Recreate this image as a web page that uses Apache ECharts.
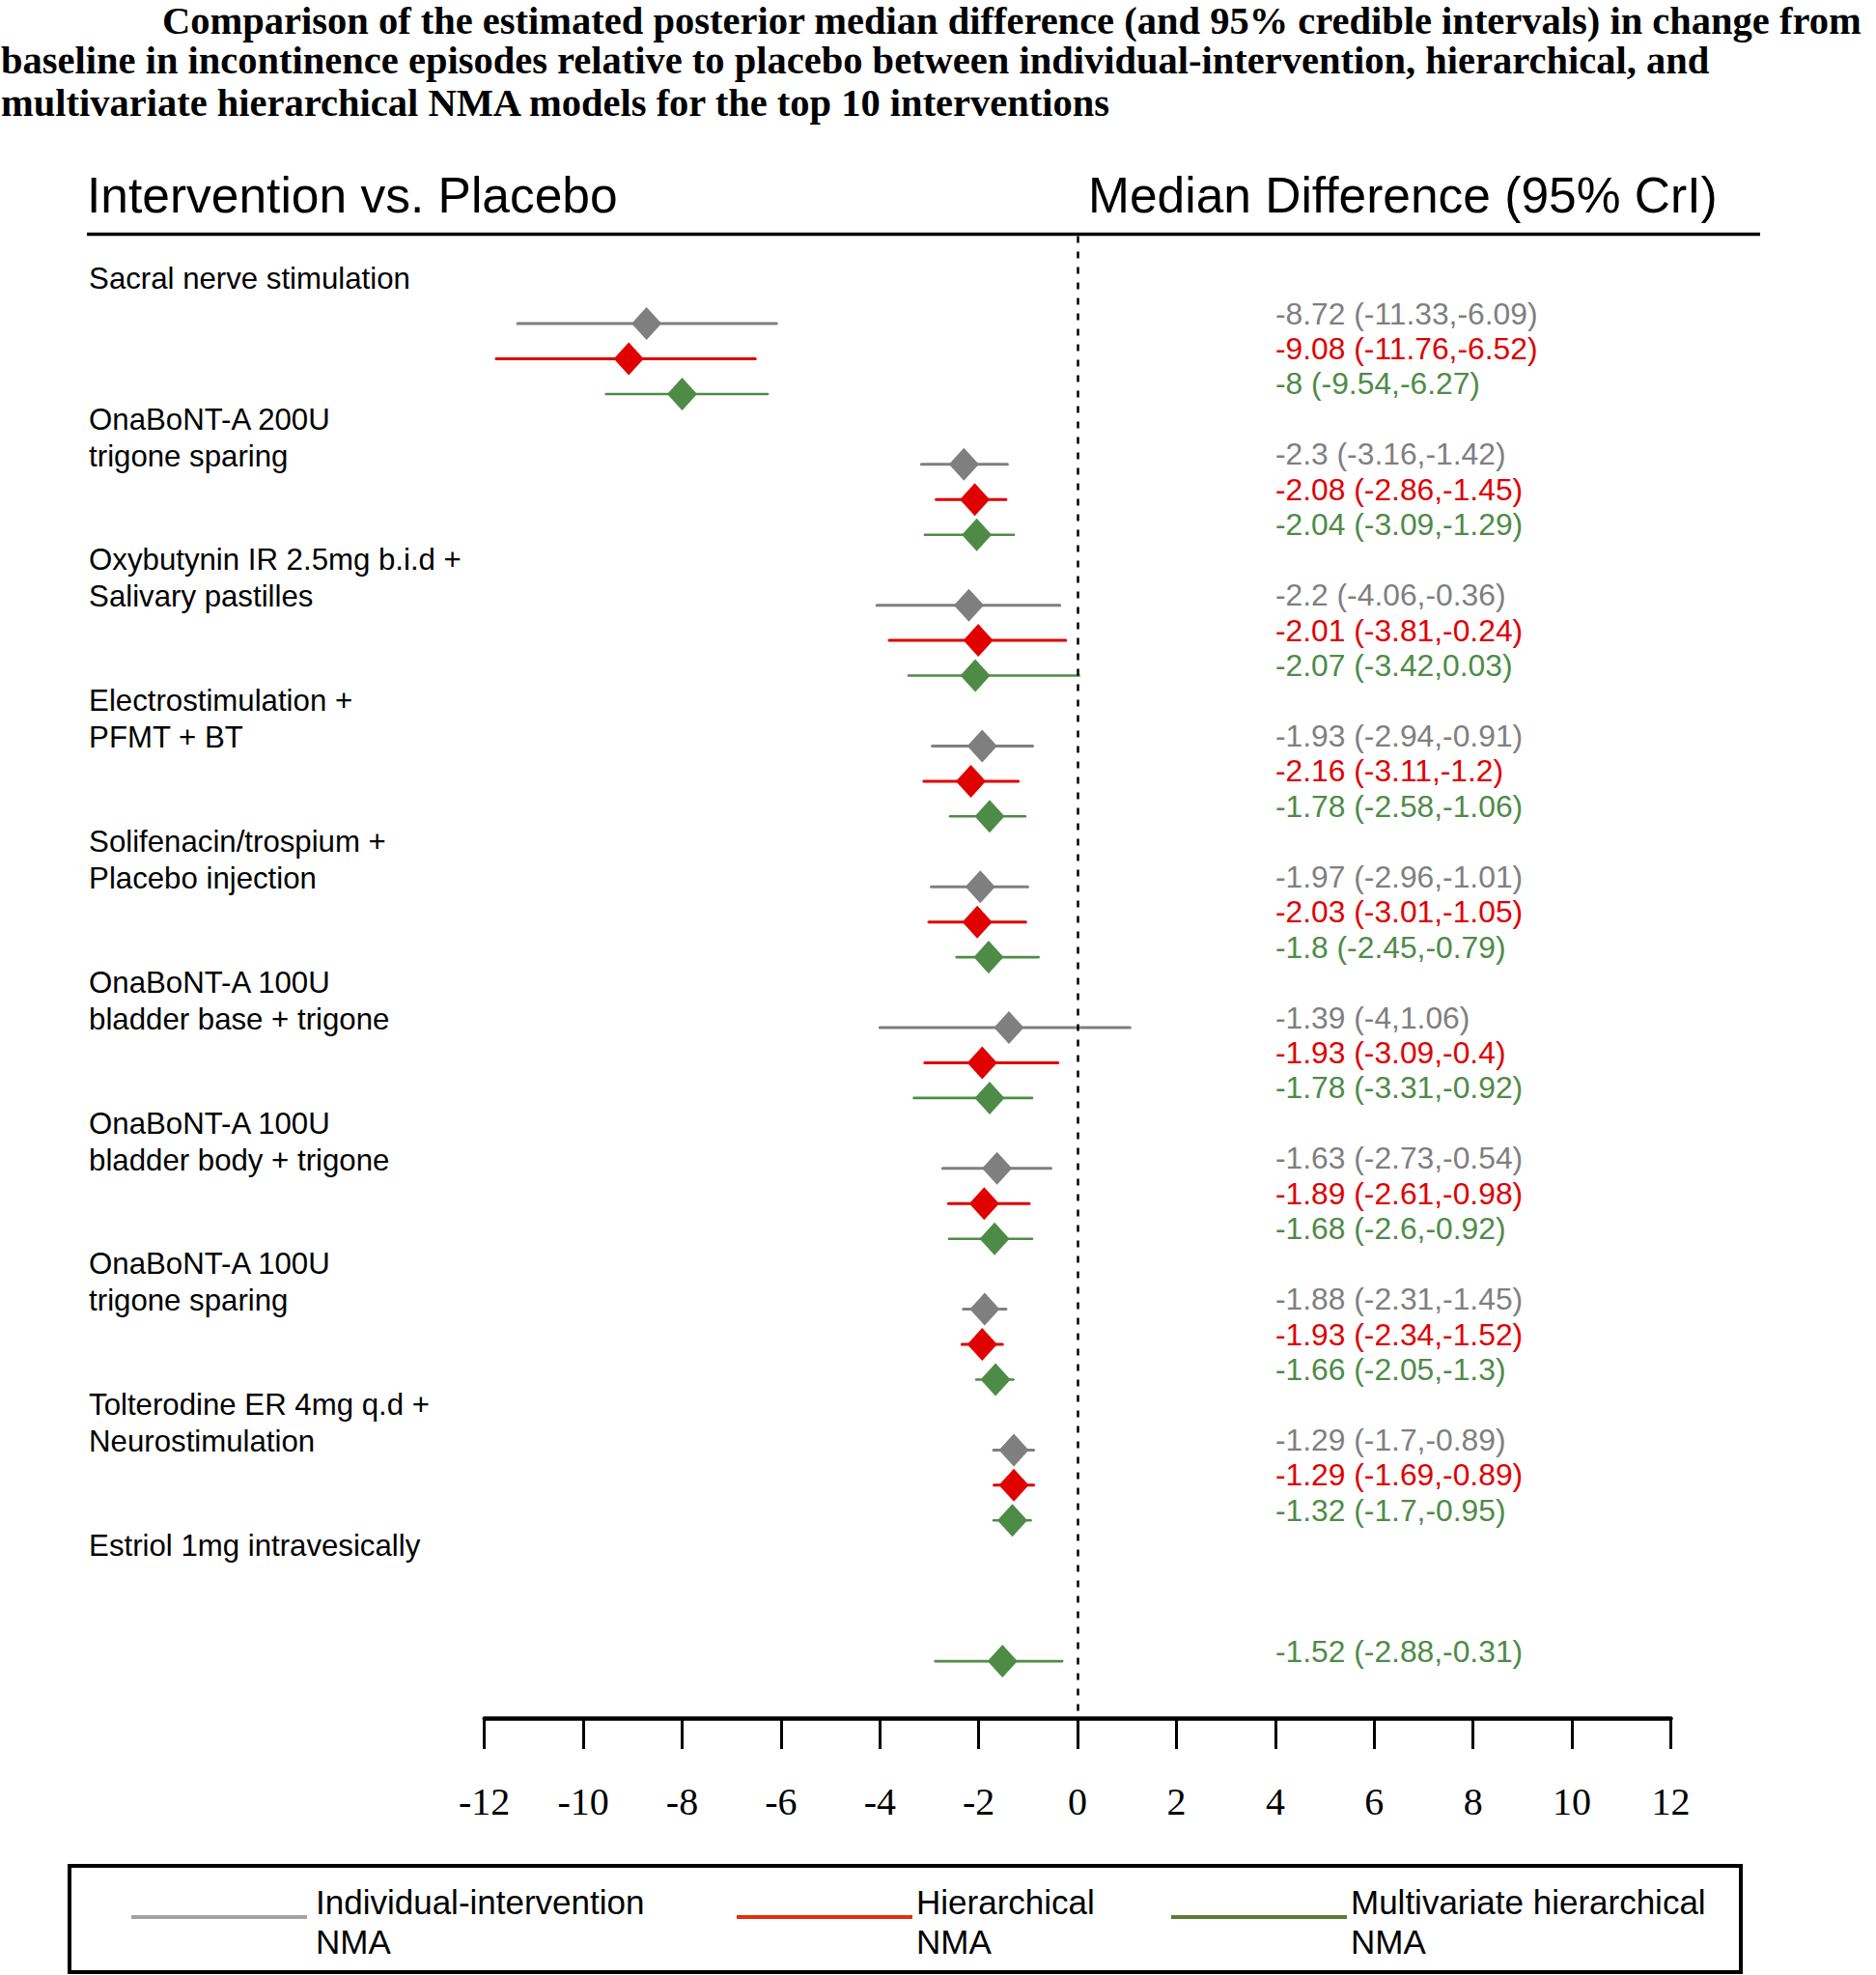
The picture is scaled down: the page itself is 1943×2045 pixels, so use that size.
<!DOCTYPE html>
<html><head><meta charset="utf-8">
<script src="https://cdn.jsdelivr.net/npm/echarts@6/dist/echarts.min.js"></script>
<style>html,body{margin:0;padding:0;background:#fff}#c{width:1943px;height:2045px}</style>
</head><body><div id="c"></div>
<script>
// ---------------- DATA ----------------
const interventions = [
  "Sacral nerve stimulation",
  "OnaBoNT-A 200U\ntrigone sparing",
  "Oxybutynin IR 2.5mg b.i.d +\nSalivary pastilles",
  "Electrostimulation +\nPFMT + BT",
  "Solifenacin/trospium +\nPlacebo injection",
  "OnaBoNT-A 100U\nbladder base + trigone",
  "OnaBoNT-A 100U\nbladder body + trigone",
  "OnaBoNT-A 100U\ntrigone sparing",
  "Tolterodine ER 4mg q.d +\nNeurostimulation",
  "Estriol 1mg intravesically"
];
const modelNames = ["Individual-intervention\nNMA", "Hierarchical\nNMA", "Multivariate hierarchical\nNMA"];
// [median, lower 95% CrI, upper 95% CrI]; null = not estimated
const individualNMA = [
  [-8.72,-11.33,-6.09],[-2.3,-3.16,-1.42],[-2.2,-4.06,-0.36],[-1.93,-2.94,-0.91],[-1.97,-2.96,-1.01],
  [-1.39,-4,1.06],[-1.63,-2.73,-0.54],[-1.88,-2.31,-1.45],[-1.29,-1.7,-0.89],null];
const hierarchicalNMA = [
  [-9.08,-11.76,-6.52],[-2.08,-2.86,-1.45],[-2.01,-3.81,-0.24],[-2.16,-3.11,-1.2],[-2.03,-3.01,-1.05],
  [-1.93,-3.09,-0.4],[-1.89,-2.61,-0.98],[-1.93,-2.34,-1.52],[-1.29,-1.69,-0.89],null];
const multivariateNMA = [
  [-8,-9.54,-6.27],[-2.04,-3.09,-1.29],[-2.07,-3.42,0.03],[-1.78,-2.58,-1.06],[-1.8,-2.45,-0.79],
  [-1.78,-3.31,-0.92],[-1.68,-2.6,-0.92],[-1.66,-2.05,-1.3],[-1.32,-1.7,-0.95],[-1.52,-2.88,-0.31]];
const xTickMin = -12, xTickMax = 12, xTickStep = 2;
const titleLines = [
  "Comparison of the estimated posterior median difference (and 95% credible intervals) in change from",
  "baseline in incontinence episodes relative to placebo between individual-intervention, hierarchical, and",
  "multivariate hierarchical NMA models for the top 10 interventions"
];
const leftHeader = "Intervention vs. Placebo";
const rightHeader = "Median Difference (95% CrI)";

// ---------------- LAYOUT / STYLE ----------------
const SANS = '"Liberation Sans", Arial, sans-serif';
const SERIF = '"Liberation Serif", "Times New Roman", serif';
const OFF = [0.321, 0.571, 0.821];           // row offset within a group
const colors = ['#7f7f7f', '#e00000', '#4e8b47'];
const legendColors = ['#a3a3a3', '#e2300f', '#5b7c34'];
const lineWidths = [3, 3, 2.6];
const TEXT_X = 4;       // values column starts at x = 4 on the axis
const LABEL_X = -20;    // intervention labels column

function modelSeries(name, rows, k) {
  const color = colors[k];
  const data = [];
  rows.forEach((r, i) => { if (r) data.push([r[0], r[1], r[2], i + OFF[k]]); });
  return [
    {
      type: 'custom', name: name, data: data, clip: false, z: 2,
      encode: { x: [1, 2], y: 3 },
      renderItem: function (params, api) {
        const y = api.value(3);
        const p1 = api.coord([api.value(1), y]);
        const p2 = api.coord([api.value(2), y]);
        const pt = api.coord([TEXT_X, y]);
        return {
          type: 'group', children: [
            { type: 'line', shape: { x1: p1[0], y1: p1[1], x2: p2[0], y2: p2[1] },
              style: { stroke: color, lineWidth: lineWidths[k], lineCap: 'round' } },
            { type: 'text', style: {
                x: pt[0], y: pt[1] - 10.5,
                text: api.value(0) + ' (' + api.value(1) + ',' + api.value(2) + ')',
                fill: color, fontSize: 31.8, fontFamily: SANS, align: 'left', verticalAlign: 'middle' } }
          ]
        };
      }
    },
    {
      type: 'scatter', name: name, z: 3,
      data: data.map(d => [d[0], d[3]]),
      symbol: 'diamond', symbolSize: [31, 34],
      itemStyle: { color: color, opacity: 1 }
    }
  ];
}

const labelSeries = {
  type: 'custom', name: 'labels', clip: false, silent: true,
  data: interventions.map((t, i) => [LABEL_X, i]),
  encode: { x: 0, y: 1 },
  renderItem: function (params, api) {
    const p = api.coord([api.value(0), api.value(1)]);
    return { type: 'text', style: {
      x: p[0], y: p[1] - 19, text: interventions[params.dataIndex],
      fill: '#000', fontSize: 31.2, fontFamily: SANS, lineHeight: 38,
      align: 'left', verticalAlign: 'top' } };
  }
};

const series = [labelSeries]
  .concat(modelSeries(modelNames[0], individualNMA, 0))
  .concat(modelSeries(modelNames[1], hierarchicalNMA, 1))
  .concat(modelSeries(modelNames[2], multivariateNMA, 2));

// reference line at 0
series.push({
  type: 'line', name: 'zero', data: [], silent: true,
  markLine: { silent: true, symbol: 'none', label: { show: false },
    lineStyle: { color: '#000', width: 2.5, type: [7, 9] },
    data: [{ xAxis: 0 }] }
});

// legend (drawn as graphic)
const legendItems = [
  { x1: 136, x2: 318, tx: 327 },
  { x1: 763, x2: 945, tx: 949 },
  { x1: 1213, x2: 1395, tx: 1399 }
];
const graphic = [
  { type: 'line', shape: { x1: 90, y1: 242.5, x2: 1823, y2: 242.5 }, style: { stroke: '#000', lineWidth: 3.5 } },
  { type: 'rect', shape: { x: 72, y: 1932, width: 1731, height: 110 }, style: { fill: 'none', stroke: '#000', lineWidth: 4 } }
];
legendItems.forEach((it, k) => {
  graphic.push({ type: 'line', shape: { x1: it.x1, y1: 1985, x2: it.x2, y2: 1985 }, style: { stroke: legendColors[k], lineWidth: 4 } });
  graphic.push({ type: 'text', style: { x: it.tx, y: 1949, text: modelNames[k], fill: '#000', fontSize: 35, fontFamily: SANS, lineHeight: 41, align: 'left', verticalAlign: 'top' } });
});

const TF = 40.5, TLH = 38;
const titles = [
  { text: titleLines[0], left: 168, top: 2 },
  { text: titleLines[1], left: 1, top: 62 - TLH / 2 },
  { text: titleLines[2], left: 1, top: 106 - TLH / 2 }
].map(t => Object.assign(t, { padding: 0, textStyle: { fontFamily: SERIF, fontWeight: 'bold', fontSize: TF, lineHeight: TLH, color: '#000' } }));
const HF = 51.5;
titles.push({ text: leftHeader, left: 90, top: 202 - HF / 2, padding: 0, textStyle: { fontFamily: SANS, fontWeight: 'normal', fontSize: HF, lineHeight: HF, color: '#000' } });
titles.push({ text: rightHeader, left: 1127, top: 202 - HF / 2, padding: 0, textStyle: { fontFamily: SANS, fontWeight: 'normal', fontSize: HF, lineHeight: HF, color: '#000' } });

const chart = echarts.init(document.getElementById('c'), null, { renderer: 'svg', width: 1943, height: 2045 });
chart.setOption({
  backgroundColor: '#fff',
  animation: false,
  title: titles,
  grid: { left: 501.7, right: 1943 - 1730.5, top: 244.5, bottom: 2045 - 1779, containLabel: false },
  xAxis: {
    type: 'value', min: xTickMin, max: xTickMax, interval: xTickStep,
    axisLine: { show: true, onZero: false, lineStyle: { color: '#000', width: 4.5 } },
    axisTick: { show: true, inside: false, length: 32, lineStyle: { color: '#000', width: 3 } },
    axisLabel: { margin: 66, color: '#000', fontSize: 40, fontFamily: SERIF },
    splitLine: { show: false }
  },
  yAxis: { type: 'value', inverse: true, min: -0.3, max: 10.225, show: false },
  series: series,
  graphic: graphic
});
</script></body></html>
